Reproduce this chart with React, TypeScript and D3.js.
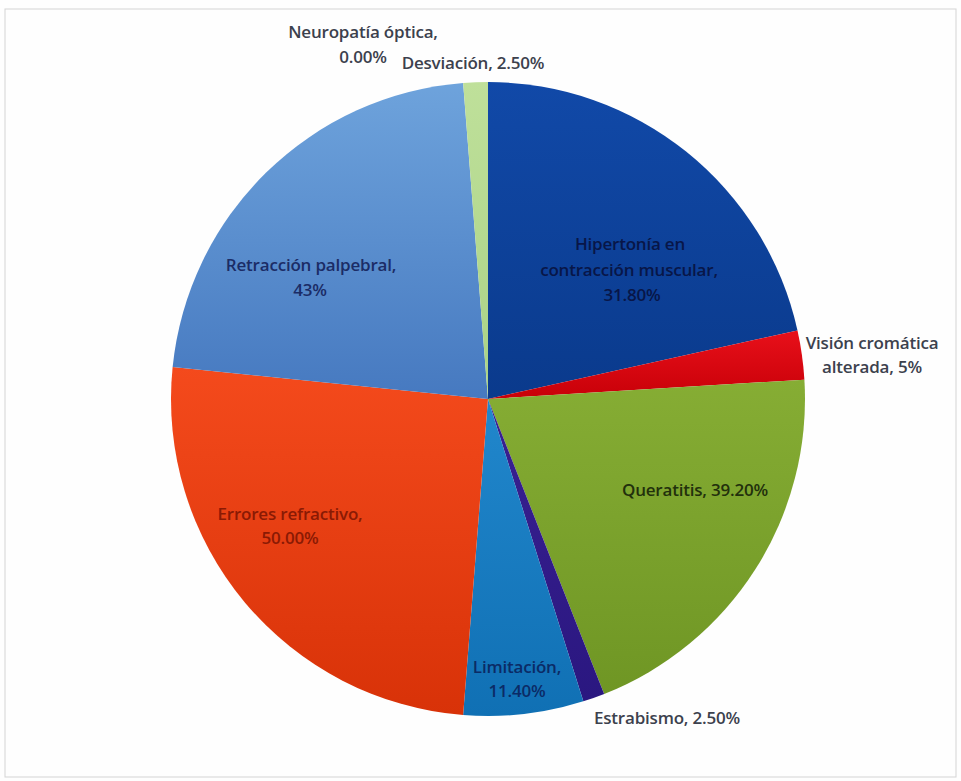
import React from "react";
import * as d3 from "d3";

// Categories, in clockwise order from 12 o'clock
const categories = [
  "Hipertonía",
  "Visión cromática alterada",
  "Queratitis",
  "Estrabismo",
  "Limitación",
  "Errores refractivo",
  "Retracción palpebral",
  "Neuropatía óptica",
  "Desviación",
];
// Slice sizes as drawn in the picture (arc degrees)
const sliceValues = [77.5, 9, 72, 4, 22, 91.3, 79.7, 0, 4.5];
// Label texts as printed
const labelLines = [
  ["Hipertonía en", "contracción muscular,", "31.80%"],
  ["Visión cromática", "alterada, 5%"],
  ["Queratitis, 39.20%"],
  ["Estrabismo, 2.50%"],
  ["Limitación,", "11.40%"],
  ["Errores refractivo,", "50.00%"],
  ["Retracción palpebral,", "43%"],
  ["Neuropatía óptica,", "0.00%"],
  ["Desviación, 2.50%"],
];

// Styling / layout (kept apart from the data)
const sliceColors = [
  ["#1149a8", "#0a3a8c"],
  ["#e8101a", "#c80008"],
  ["#86ad34", "#6f9624"],
  ["#3a2192", "#2a1780"],
  ["#2187cc", "#1070b4"],
  ["#f44a1c", "#d83208"],
  ["#6ea3dc", "#4679c0"],
  ["#b9dc92", "#a8cf82"],
  ["#bfe09a", "#a9d286"],
];
const labelColors = ["#081648", "#3c414d", "#22300c", "#3c414d", "#0b2b66", "#8a1a04", "#1b2c66", "#3c414d", "#3c414d"];
// label centers relative to the pie centre, per line
const labelLayout: [number, number][][] = [
  [[142, -155], [141, -129], [144, -104]],
  [[384, -56], [384, -32]],
  [[207, 91]],
  [[179, 319]],
  [[29, 268], [29, 292]],
  [[-198, 115], [-198, 139]],
  [[-177, -134], [-178, -109]],
  [[-125, -367], [-125, -342]],
  [[-15, -336]],
];

const W = 961;
const H = 781;
const cx = 488;
const cy = 399;
const R = 317;

export default function App() {
  const pie = d3
    .pie<number>()
    .sort(null)
    .value((d) => d)
    .startAngle(0)
    .endAngle(2 * Math.PI);
  const arcs = pie(sliceValues);
  const arcGen = d3.arc<d3.PieArcDatum<number>>().innerRadius(0).outerRadius(R);

  return (
    <svg
      width={W}
      height={H}
      style={{ position: "absolute", left: 0, top: 0, background: "#fff" }}
      fontFamily="'Open Sans', Lato, sans-serif"
    >
      <defs>
        {sliceColors.map((c, i) => (
          <linearGradient key={i} id={`g${i}`} x1="0" y1="0" x2="0" y2="1">
            <stop offset="0%" stopColor={c[0]} />
            <stop offset="100%" stopColor={c[1]} />
          </linearGradient>
        ))}
      </defs>
      <rect x={0} y={0} width={W} height={H} fill="#fefefe" />
      <rect x={5} y={9} width={951} height={768} fill="none" stroke="#d4d4d4" strokeWidth={1} />
      <g transform={`translate(${cx},${cy})`}>
        {arcs.map((a, i) =>
          a.endAngle - a.startAngle > 0 ? (
            <path key={categories[i]} d={arcGen(a) || ""} fill={`url(#g${i})`} />
          ) : null
        )}
        {labelLines.map((lines, i) =>
          lines.map((t, j) => (
            <text
              key={`${i}-${j}`}
              x={labelLayout[i][j][0]}
              y={labelLayout[i][j][1]}
              dy="0.35em"
              textAnchor="middle"
              fontSize={17}
              fontWeight={600}
              letterSpacing={-0.2}
              fill={labelColors[i]}
            >
              {t}
            </text>
          ))
        )}
      </g>
    </svg>
  );
}
